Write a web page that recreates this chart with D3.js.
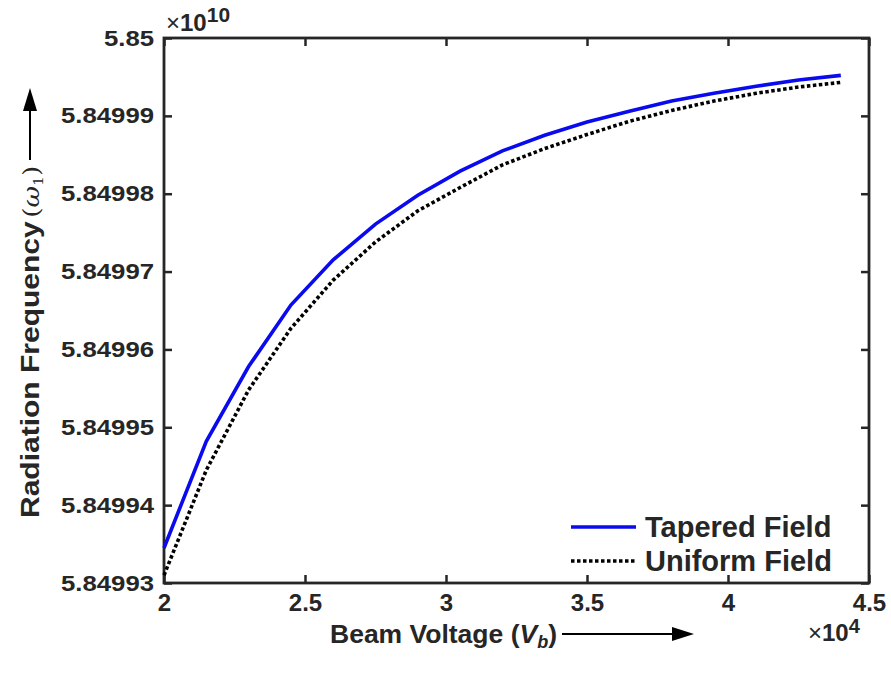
<!DOCTYPE html>
<html>
<head>
<meta charset="utf-8">
<script src="https://cdn.jsdelivr.net/npm/d3@7"></script>
<style>
  html, body { margin: 0; padding: 0; background: #fff; }
  svg text { font-family: "Liberation Sans", Arial, Helvetica, sans-serif; font-weight: bold; fill: #262626; }
</style>
</head>
<body>
<svg id="chart" width="891" height="680"></svg>
<script>
// ---- data (x in units of 10^4 V, y in units of 10^10) ----
const voltage  = [2.0, 2.15, 2.3, 2.45, 2.6, 2.75, 2.9, 3.05, 3.2, 3.35, 3.5, 3.65, 3.8, 3.95, 4.1, 4.25, 4.4];
const tapered  = [5.8499345, 5.8499482, 5.8499578, 5.8499657, 5.8499715, 5.8499761, 5.8499798, 5.8499829, 5.8499855, 5.8499875, 5.8499892, 5.8499906, 5.8499919, 5.8499929, 5.8499938, 5.8499946, 5.8499952];
const uniform  = [5.8499310, 5.8499445, 5.8499548, 5.8499627, 5.8499689, 5.8499738, 5.8499778, 5.8499808, 5.8499837, 5.8499858, 5.8499876, 5.8499893, 5.8499907, 5.8499919, 5.8499929, 5.8499937, 5.8499943];
const seriesNames = ["Tapered Field", "Uniform Field"];
const xTicks = [2, 2.5, 3, 3.5, 4, 4.5];
const xTickLabels = ["2", "2.5", "3", "3.5", "4", "4.5"];
const yTicks = [5.84993, 5.84994, 5.84995, 5.84996, 5.84997, 5.84998, 5.84999, 5.85];
const yTickLabels = ["5.84993", "5.84994", "5.84995", "5.84996", "5.84997", "5.84998", "5.84999", "5.85"];

const svg = d3.select("#chart");
svg.append("rect").attr("width", 891).attr("height", 680).attr("fill", "#fff");

const L = 164, R = 869, T = 38, B = 583;
const x = d3.scaleLinear().domain([2, 4.5]).range([L, R]);
const y = d3.scaleLinear().domain([5.84993, 5.85]).range([B, T]);
const axisColor = "#262626";

// axes
const gx = svg.append("g").attr("transform", `translate(0,${B})`)
  .call(d3.axisBottom(x).tickValues(xTicks).tickFormat((d, i) => xTickLabels[i]).tickSizeInner(-8).tickSizeOuter(0).tickPadding(11));
const gy = svg.append("g").attr("transform", `translate(${L},0)`)
  .call(d3.axisLeft(y).tickValues(yTicks).tickFormat((d, i) => yTickLabels[i]).tickSizeInner(-8).tickSizeOuter(0).tickPadding(10));
const gx2 = svg.append("g").attr("transform", `translate(0,${T})`)
  .call(d3.axisTop(x).tickValues(xTicks).tickFormat("").tickSizeInner(-8).tickSizeOuter(0));
const gy2 = svg.append("g").attr("transform", `translate(${R},0)`)
  .call(d3.axisRight(y).tickValues(yTicks).tickFormat("").tickSizeInner(-8).tickSizeOuter(0));

[gx, gy, gx2, gy2].forEach(g => {
  g.select(".domain").remove();
  g.selectAll(".tick line").attr("stroke", axisColor).attr("stroke-width", 2.5);
});
gx.selectAll(".tick text").style("font-size", "24px").attr("fill", axisColor);
const ySx = 1.17;
gy.selectAll(".tick text").style("font-size", "22px").attr("fill", axisColor)
  .attr("x", -10 / ySx).attr("transform", `scale(${ySx},1)`);

// box
svg.append("rect").attr("x", L).attr("y", T).attr("width", R - L).attr("height", B - T)
  .attr("fill", "none").attr("stroke", axisColor).attr("stroke-width", 2.8);

// lines
const line = d3.line().x(d => x(d[0])).y(d => y(d[1]));
const tData = voltage.map((v, i) => [v, tapered[i]]);
const uData = voltage.map((v, i) => [v, uniform[i]]);
svg.append("path").datum(tData).attr("d", line).attr("fill", "none")
  .attr("stroke", "#0a0aee").attr("stroke-width", 3.6);
svg.append("path").datum(uData).attr("d", line).attr("fill", "none")
  .attr("stroke", "#000").attr("stroke-width", 3.6).attr("stroke-dasharray", "3.5,2.5");

// legend
const lg = svg.append("g");
const legendY = [527, 561];
lg.append("line").attr("x1", 571).attr("x2", 636).attr("y1", legendY[0]).attr("y2", legendY[0])
  .attr("stroke", "#0a0aee").attr("stroke-width", 3.6);
lg.append("line").attr("x1", 571).attr("x2", 636).attr("y1", legendY[1]).attr("y2", legendY[1])
  .attr("stroke", "#000").attr("stroke-width", 3.6).attr("stroke-dasharray", "3.5,2.5");
seriesNames.forEach((n, i) => {
  lg.append("text").attr("x", 645).attr("y", legendY[i] + 10).style("font-size", "29px").attr("fill", "#000").text(n);
});

// exponent labels
const e1 = svg.append("text").attr("x", 166).attr("y", 31).style("font-size", "24px").attr("fill", axisColor);
e1.append("tspan").style("font-weight", "normal").text("\u00d7");
e1.append("tspan").text("10");
e1.append("tspan").attr("dy", -9).style("font-size", "21px").text("10");

const e2 = svg.append("text").attr("x", 808).attr("y", 641).style("font-size", "24px").attr("fill", axisColor);
e2.append("tspan").style("font-weight", "normal").text("\u00d7");
e2.append("tspan").text("10");
e2.append("tspan").attr("dy", -8).style("font-size", "20px").text("4");

// x-axis label with arrow
const xl = svg.append("text").attr("x", 330).attr("y", 643).style("font-size", "26.5px").attr("fill", "#000");
xl.append("tspan").text("Beam Voltage (");
xl.append("tspan").style("font-style", "italic").text("V");
xl.append("tspan").style("font-style", "italic").style("font-size", "18px").attr("dy", 5).text("b");
xl.append("tspan").attr("dy", -5).text(")");
svg.append("line").attr("x1", 562).attr("x2", 678).attr("y1", 634).attr("y2", 634).attr("stroke", "#000").attr("stroke-width", 2);
svg.append("path").attr("d", "M694,634 L672,627 L672,641 Z").attr("fill", "#000");

// y-axis label with arrow
const yl = svg.append("text").attr("transform", "translate(39,518) rotate(-90) scale(1.2,1)").style("font-size", "25px").attr("fill", "#000");
yl.append("tspan").text("Radiation Frequency");
const serif = "'DejaVu Serif', serif";
yl.append("tspan").attr("dx", 3).style("font-weight", "normal").style("font-family", serif).style("font-size", "22px").text("(");
yl.append("tspan").style("font-weight", "normal").style("font-style", "italic").style("font-family", serif).style("font-size", "22px").text("\u03c9");
yl.append("tspan").style("font-weight", "normal").style("font-family", serif).style("font-size", "13px").attr("dy", 4).text("1");
yl.append("tspan").style("font-weight", "normal").style("font-family", serif).style("font-size", "22px").attr("dy", -4).text(")");
svg.append("line").attr("x1", 30).attr("x2", 30).attr("y1", 160).attr("y2", 104).attr("stroke", "#000").attr("stroke-width", 2);
svg.append("path").attr("d", "M30,88 L23,111 L37,111 Z").attr("fill", "#000");
</script>
</body>
</html>
